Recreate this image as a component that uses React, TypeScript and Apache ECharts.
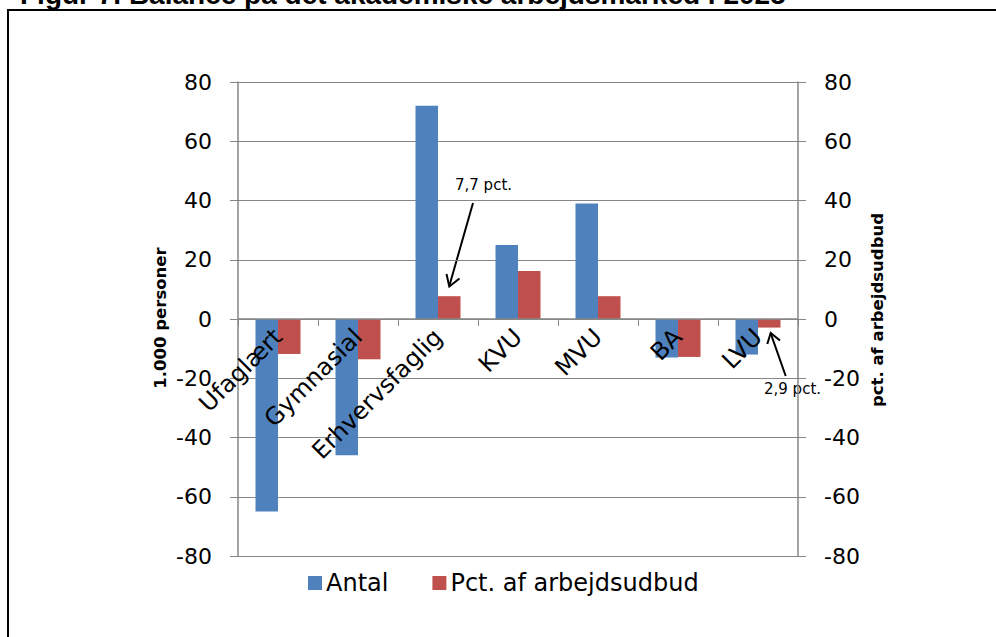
import React, { useEffect, useRef } from "react";
import * as echarts from "echarts";

const categories = ["Ufaglært", "Gymnasial", "Erhvervsfaglig", "KVU", "MVU", "BA", "LVU"];
const antal = [-65, -46, 72, 25, 39, -13, -12];
const pctArbejdsudbud = [-11.8, -13.6, 7.7, 16.2, 7.7, -12.8, -2.9];
const yTicks = { min: -80, max: 80, interval: 20 };
const seriesNames = ["Antal", "Pct. af arbejdsudbud"];
const titleText = "Figur 7. Balance på det akademiske arbejdsmarked i 2025";
const leftAxisName = "1.000 personer";
const rightAxisName = "pct. af arbejdsudbud";
const annot1 = "7,7 pct.";
const annot2 = "2,9 pct.";

const GRAY = "#868686";
const FONT = "DejaVu Sans";

const GRID = { left: 238, right: 198, top: 82, bottom: 81 };
const PLOT_H = 637 - GRID.top - GRID.bottom;
// place the category axis at value 0 of the value axis
const zeroOffset = -(PLOT_H * (0 - yTicks.min)) / (yTicks.max - yTicks.min);

export default function App() {
  const ref = useRef<HTMLDivElement>(null);
  useEffect(() => {
    if (!ref.current) return;
    const chart = echarts.init(ref.current, null, { renderer: "svg" });
    const yAxisCommon = {
      type: "value",
      min: yTicks.min,
      max: yTicks.max,
      interval: yTicks.interval,
      axisLine: { show: true, onZero: false, lineStyle: { color: GRAY, width: 1.5 } },
      axisTick: { show: true, length: 8, lineStyle: { color: GRAY } },
      splitLine: { show: true, lineStyle: { color: GRAY, width: 1 } },
      axisLabel: { fontFamily: FONT, fontSize: 22, color: "#000", margin: 26 },
    };
    chart.setOption({
      animation: false,
      backgroundColor: "#fff",
      grid: {
        ...GRID,
        containLabel: false,
        outerBoundsMode: "none",
      },
      legend: {
        left: 308,
        top: 571,
        padding: 0,
        itemWidth: 14,
        itemHeight: 14,
        itemGap: 44,
        icon: "rect",
        textStyle: { fontFamily: FONT, fontSize: 24, color: "#000", padding: [0, 0, 0, -1] },
        data: seriesNames,
      },
      xAxis: {
        type: "category",
        data: categories,
        position: "bottom",
        offset: zeroOffset,
        z: 10,
        axisLine: { show: true, onZero: false, lineStyle: { color: GRAY, width: 1.5 } },
        axisTick: { show: true, length: 7, alignWithLabel: false, lineStyle: { color: GRAY } },
        axisLabel: { rotate: 45, interval: 0, fontFamily: FONT, fontSize: 24, color: "#000", margin: 14 },
        splitLine: { show: false },
      },
      yAxis: [
        { ...yAxisCommon, position: "left" },
        { ...yAxisCommon, position: "right", splitLine: { show: false } },
      ],
      series: [
        {
          name: seriesNames[0],
          type: "bar",
          yAxisIndex: 0,
          data: antal,
          barWidth: 22.5,
          barGap: "0%",
          itemStyle: { color: "#4F81BD" },
        },
        {
          name: seriesNames[1],
          type: "bar",
          yAxisIndex: 1,
          data: pctArbejdsudbud,
          barWidth: 22.5,
          barGap: "0%",
          itemStyle: { color: "#C0504D" },
        },
      ],
      graphic: [
        {
          type: "rect",
          shape: { x: 8, y: 10, width: 1100, height: 800 },
          style: { fill: "none", stroke: "#000", lineWidth: 2 },
          z: 100,
        },
        {
          type: "text",
          x: 20,
          y: -6,
          style: {
            text: titleText,
            fontFamily: "Liberation Sans",
            fontWeight: "bold",
            fontSize: 28,
            fill: "#000",
            align: "left",
            verticalAlign: "middle",
          },
          z: 100,
        },
        {
          type: "text",
          x: 160,
          y: 318,
          rotation: Math.PI / 2,
          style: {
            text: leftAxisName,
            fontFamily: FONT,
            fontWeight: "bold",
            fontSize: 16.5,
            fill: "#000",
            align: "center",
            verticalAlign: "middle",
          },
        },
        {
          type: "text",
          x: 877,
          y: 310,
          rotation: Math.PI / 2,
          style: {
            text: rightAxisName,
            fontFamily: FONT,
            fontWeight: "bold",
            fontSize: 16.5,
            fill: "#000",
            align: "center",
            verticalAlign: "middle",
          },
        },
        {
          type: "text",
          x: 455,
          y: 185,
          style: { text: annot1, fontFamily: FONT, fontSize: 15, fill: "#000", align: "left", verticalAlign: "middle" },
        },
        {
          type: "line",
          shape: { x1: 473, y1: 203, x2: 449.3, y2: 286 },
          style: { stroke: "#000", lineWidth: 2 },
        },
        {
          type: "polyline",
          shape: { points: [[446.5, 274], [449.3, 286.5], [459.5, 278.5]] },
          style: { stroke: "#000", lineWidth: 2, fill: "none" },
        },
        {
          type: "text",
          x: 764,
          y: 389,
          style: { text: annot2, fontFamily: FONT, fontSize: 15, fill: "#000", align: "left", verticalAlign: "middle" },
        },
        {
          type: "line",
          shape: { x1: 785.7, y1: 376, x2: 770.7, y2: 333.3 },
          style: { stroke: "#000", lineWidth: 2 },
        },
        {
          type: "polyline",
          shape: { points: [[767.3, 344], [770.7, 333], [780, 340.5]] },
          style: { stroke: "#000", lineWidth: 2, fill: "none" },
        },
      ],
    });
    return () => chart.dispose();
  }, []);
  return (
    <div
      ref={ref}
      style={{ position: "fixed", left: 0, top: 0, width: 996, height: 637, background: "#fff" }}
    />
  );
}
